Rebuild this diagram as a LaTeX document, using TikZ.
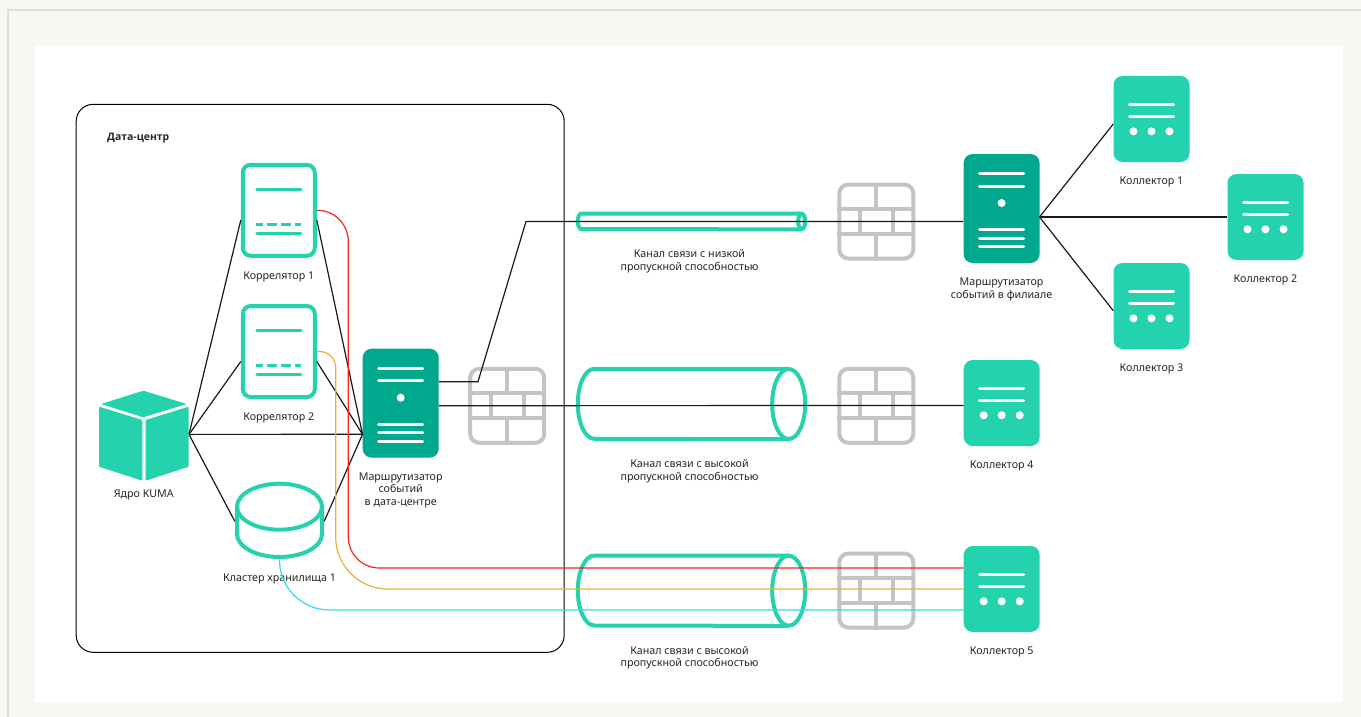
\documentclass[tikz,border=0pt]{standalone}
\usepackage{fontspec}
\usepackage{tikz}
\usetikzlibrary{positioning}
\setmainfont{Noto Sans}
\newfontfamily\headfont{Open Sans}
\definecolor{mint}{HTML}{24D3AE}
\definecolor{deepmint}{HTML}{00A88E}
\definecolor{wallgray}{HTML}{C4C4C4}
\definecolor{pagegray}{HTML}{F7F8F3}
\definecolor{framegray}{HTML}{DEDED8}
\definecolor{redline}{HTML}{F5281E}
\definecolor{amberline}{HTML}{EBB138}
\definecolor{cyanline}{HTML}{2BDDF0}
\tikzset{
  lbl/.style={font=\fontsize{10.7}{12.7}\selectfont,text=black!85,align=center,inner sep=0pt},
  link/.style={black!90,line width=1.2pt},
  wire/.style={line width=1.2pt},
  collbox/.style={fill=mint,rounded corners=9pt,minimum width=76pt,minimum height=86pt,inner sep=0pt},
  routerbox/.style={fill=deepmint,rounded corners=9pt,minimum width=76pt,minimum height=109pt,inner sep=0pt},
  corrbox/.style={draw=mint,line width=4pt,rounded corners=8pt,minimum width=72pt,minimum height=91pt,inner sep=0pt},
  wallbox/.style={draw=wallgray,line width=4pt,rounded corners=9pt,minimum width=74pt,minimum height=74pt,inner sep=0pt},
  bar/.style={white,line width=3pt,line cap=round},
  mintbar/.style={mint,line width=3pt,line cap=round},
  wallbar/.style={wallgray,line width=4pt},
  tubeline/.style={mint,line width=4pt}
}
% collector: name, position, label
\newcommand{\collector}[3]{
  \node [collbox] (#1) at (#2) {};
  \draw [bar] ([shift={(-22pt,14.7pt)}]#1.center) -- ++(44pt,0pt);
  \draw [bar] ([shift={(-22pt,2.3pt)}]#1.center) -- ++(44pt,0pt);
  \foreach \dotx in {-18,0,18}
    \fill [white] ([shift={(\dotx pt,-12.3pt)}]#1.center) circle (4pt);
  \node [lbl,below=14pt of #1] (#1text) {#3};
}
% router: name, position, label
\newcommand{\router}[3]{
  \node [routerbox] (#1) at (#2) {};
  \foreach \bary in {34.8,22.5,-20.8,-29.5,-37.8}
    \draw [bar] ([shift={(-22pt,\bary pt)}]#1.center) -- ++(44pt,0pt);
  \fill [white] ([yshift=5.5pt]#1.center) circle (4pt);
  \node [lbl,below=14.5pt of #1] (#1text) {#3};
}
% correlator: name, position, label
\newcommand{\correlator}[3]{
  \node [corrbox] (#1) at (#2) {};
  \draw [mintbar] ([shift={(-22pt,21pt)}]#1.center) -- ++(44pt,0pt);
  \draw [mint,line width=3pt,dash pattern=on 10pt off 4pt,dash phase=3pt] ([shift={(-22.5pt,-14.4pt)}]#1.center) -- ++(45pt,0pt);
  \draw [mintbar] ([shift={(-22pt,-22.7pt)}]#1.center) -- ++(44pt,0pt);
  \node [lbl,below=14pt of #1] (#1text) {#3};
}
% firewall: name, position
\newcommand{\firewall}[2]{
  \node [wallbox] (#1) at (#2) {};
  \draw [wallbar] ([yshift=12.5pt]#1.west) -- ([yshift=12.5pt]#1.east);
  \draw [wallbar] ([yshift=-12.5pt]#1.west) -- ([yshift=-12.5pt]#1.east);
  \draw [wallbar] (#1.north) -- ([yshift=12.5pt]#1.center);
  \draw [wallbar] (#1.south) -- ([yshift=-12.5pt]#1.center);
  \draw [wallbar] ([shift={(-16.5pt,12.5pt)}]#1.center) -- ++(0pt,-25pt);
  \draw [wallbar] ([shift={(16.5pt,12.5pt)}]#1.center) -- ++(0pt,-25pt);
}
% tube: name, position, half height, end radius, label
\newcommand{\tube}[5]{
  \node [minimum width=231pt,minimum height=#3*2pt,inner sep=0pt] (#1) at (#2) {};
  \draw [tubeline] ([shift={(-#4pt-2pt,-2pt)}]#1.north east)
    -- ([shift={(#4pt+2pt,-2pt)}]#1.north west)
    arc [start angle=90,end angle=270,x radius=#4pt,y radius=#3pt-2pt]
    -- ([shift={(-#4pt-2pt,2pt)}]#1.south east);
  \draw [tubeline] ([xshift=-#4pt-2pt]#1.east) ellipse [x radius=#4pt,y radius=#3pt-2pt];
  \node [lbl,below=18pt of #1,xshift=-2pt] (#1text) {#5};
}
\begin{document}
\begin{tikzpicture}[x=1pt,y=-1pt]
\useasboundingbox (0,0) rectangle (1361,717);
\fill [pagegray] (0,0) rectangle (1361,717);
\draw [framegray,line width=1.5pt] (8,717) -- (8,10) -- (1361,10);
\fill [white] (35,46) rectangle (1343,702);
\node [draw=black,line width=1pt,rounded corners=17pt,minimum width=488pt,minimum height=548pt,inner sep=0pt] (dc) at (320.2,378.3) {};
\node [lbl,anchor=west,font=\fontsize{10.4}{12.7}\headfont\bfseries] (dctitle) at (107,138) {Дата-центр};

\correlator{corr1}{278.8,210.3}{Коррелятор 1}
\correlator{corr2}{278.8,351.5}{Коррелятор 2}
\router{rdc}{400.7,403.2}{Маршрутизатор\\событий\\в дата-центре}
\router{rbr}{1001.6,208.5}{Маршрутизатор\\событий в филиале}
\collector{k1}{1151.5,119}{Коллектор 1}
\collector{k2}{1265.5,217}{Коллектор 2}
\collector{k3}{1151.5,306}{Коллектор 3}
\collector{k4}{1001.7,403}{Коллектор 4}
\collector{k5}{1001.7,589}{Коллектор 5}
\firewall{fw1}{507.2,405.8}
\firewall{fw2}{876.3,221.5}
\firewall{fw3}{876.3,405.8}
\firewall{fw4}{876.3,590.5}
\tube{tb1}{691.5,221.5}{9.7}{3.5}{Канал связи с низкой\\пропускной способностью}
\tube{tb2}{691.5,404}{37}{16.5}{Канал связи с высокой\\пропускной способностью}
\tube{tb3}{691.5,590.7}{37}{16.5}{Канал связи с высокой\\пропускной способностью}

% core
\node [minimum width=90pt,minimum height=90pt,inner sep=0pt] (core) at (143.8,434.4) {};
\node [lbl,below=10.5pt of core] (coretext) {Ядро KUMA};
\fill [mint,rounded corners=1pt] (143.3,390.7) -- (186.7,404) -- (143.3,417.3) -- (101,404) -- cycle;
\fill [mint,rounded corners=1pt] (99,406.7) -- (142.3,420) -- (142.3,480.7) -- (99,466.7) -- cycle;
\fill [mint,rounded corners=1pt] (145.7,420) -- (188.7,406.7) -- (188.7,466.7) -- (145.7,480.7) -- cycle;

% storage
\node [minimum width=89pt,minimum height=77.5pt,inner sep=0pt] (stor) at (279.5,520.3) {};
\node [lbl,below=14.5pt of stor] (stortext) {Кластер хранилища 1};
\draw [tubeline] (279.5,506.7) ellipse [x radius=42.5pt,y radius=23pt];
\draw [tubeline] (237,506.7) -- (237,534) arc [start angle=180,end angle=360,x radius=42.5pt,y radius=23pt] -- (322,506.7);

\coordinate (hub) at (362.5,434.3);
\coordinate (hubbr) at (1039.5,217);
\coordinate (bend) at (478,381.7);
\coordinate (rise) at (526,221.5);

\draw [link] (core.east) -- ([yshift=-9.7pt]corr1.west);
\draw [link] (core.east) -- ([yshift=-10pt]corr2.west);
\draw [link] (core.east) -- (hub);
\draw [link] (core.east) -- ([yshift=-1pt]stor.west);
\draw [link] ([yshift=-9.7pt]corr1.east) -- (hub);
\draw [link] ([yshift=-10pt]corr2.east) -- (hub);
\draw [link] ([yshift=-1pt]stor.east) -- (hub);
\draw [link] ([yshift=21.5pt]rdc.east) -- (bend) -- (rise) -- ([yshift=-13pt]rbr.west);
\draw [link] ([yshift=-2.5pt]rdc.east) -- ([yshift=-2.5pt]k4.west);
\draw [link] (hubbr) -- ([yshift=-5pt]k1.west);
\draw [link] (hubbr) -- (k2.west);
\draw [link] (hubbr) -- ([yshift=-4.7pt]k3.west);

\draw [wire,redline,rounded corners=31pt] (corr1.east) -| (348.3,400) |- ([yshift=21pt]k5.west);
\draw [wire,amberline] (corr2.east) [rounded corners=16pt] -| (335.7,450) [rounded corners=52pt] |- (k5.west);
\draw [wire,cyanline,rounded corners=50pt] (stor.south) |- ([yshift=-21pt]k5.west);
\end{tikzpicture}
\end{document}
